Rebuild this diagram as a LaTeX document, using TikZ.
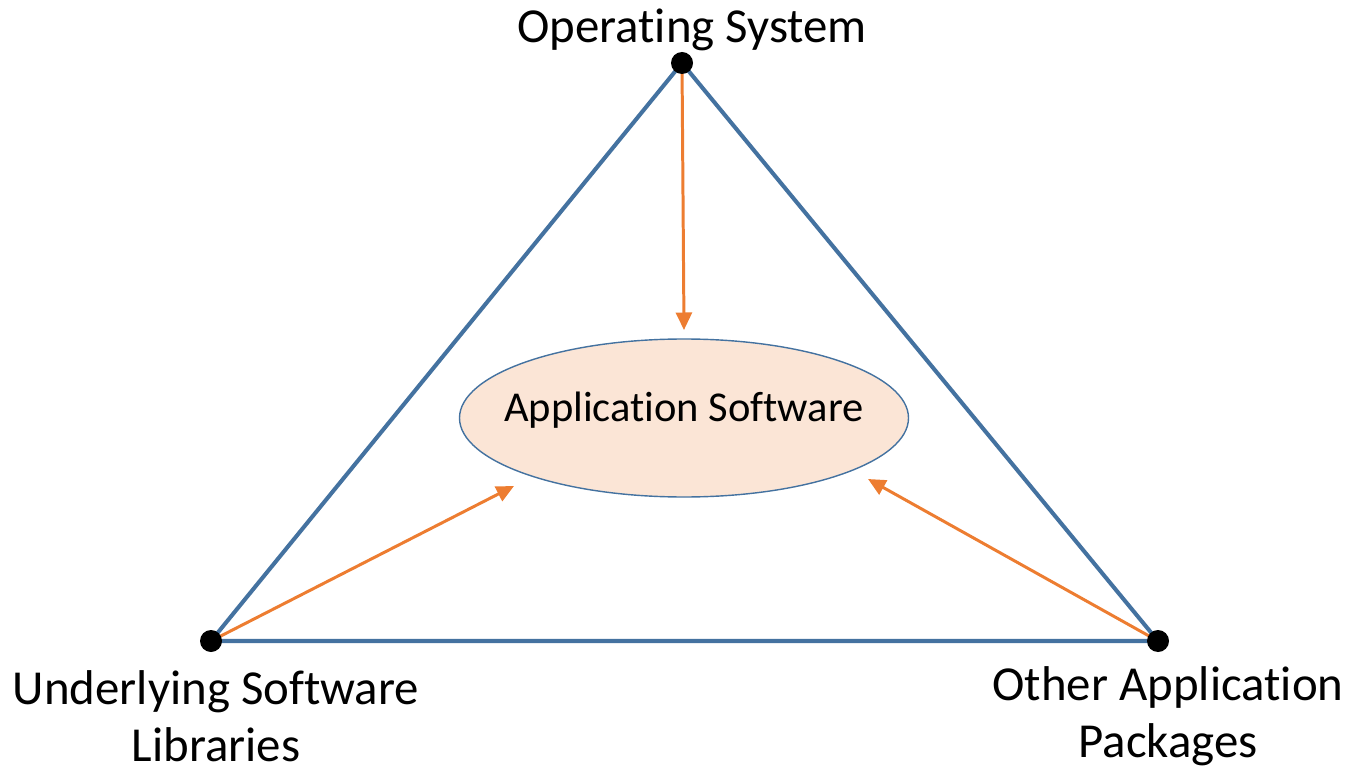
\documentclass[tikz,border=0pt]{standalone}
\usepackage{fontspec}
\setmainfont[Ligatures=NoCommon]{Carlito}
\usetikzlibrary{arrows.meta,shapes.geometric}
\definecolor{edgeblue}{RGB}{68,114,160}
\definecolor{arrorange}{RGB}{237,125,49}
\definecolor{appfill}{RGB}{251,229,214}

\begin{document}
\begin{tikzpicture}[
  edge/.style={draw=edgeblue, line width=2.3pt},
  dep/.style={draw=arrorange, line width=1.7pt, -{Triangle[length=3.5mm, width=3.2mm]}},
  vertex/.style={circle, fill=black, inner sep=0pt, minimum size=4.4mm},
  tag/.style={align=center, font=\fontsize{27.8}{32.3}\selectfont}
]
\useasboundingbox (0,0) rectangle (27,15.32);

% Application in the middle
\node[ellipse, draw=edgeblue, line width=0.8pt, fill=appfill, minimum width=8.98cm, minimum height=3.16cm] (app) at (13.68,6.96) {};
\node[tag, font=\fontsize{24.2}{29}\selectfont] (apptext) at (13.68,7.12) {Application Software};

% Corners of the triangle
\coordinate (os) at (13.64,14.06);
\coordinate (lib) at (4.22,2.5);
\coordinate (pkg) at (23.16,2.5);

\draw[edge] (os) -- (lib) -- (pkg) -- cycle;

% Dependencies pointing at the application
\coordinate (osend) at (13.68,8.72);
\coordinate (libend) at (10.28,5.6);
\coordinate (pkgend) at (17.36,5.74);
\draw[dep] (os) -- (osend);
\draw[dep] (lib) -- (libend);
\draw[dep] (pkg) -- (pkgend);

\node[vertex] (osdot) at (os) {};
\node[vertex] (libdot) at (lib) {};
\node[vertex] (pkgdot) at (pkg) {};

% Labels
\node[tag] (oslabel) at (13.84,14.72) {Operating System};
\node[tag] (liblabel) at (4.32,1.0) {Underlying Software\\Libraries};
\node[tag] (pkglabel) at (23.36,1.0) {Other Application\\Packages};

\end{tikzpicture}
\end{document}
